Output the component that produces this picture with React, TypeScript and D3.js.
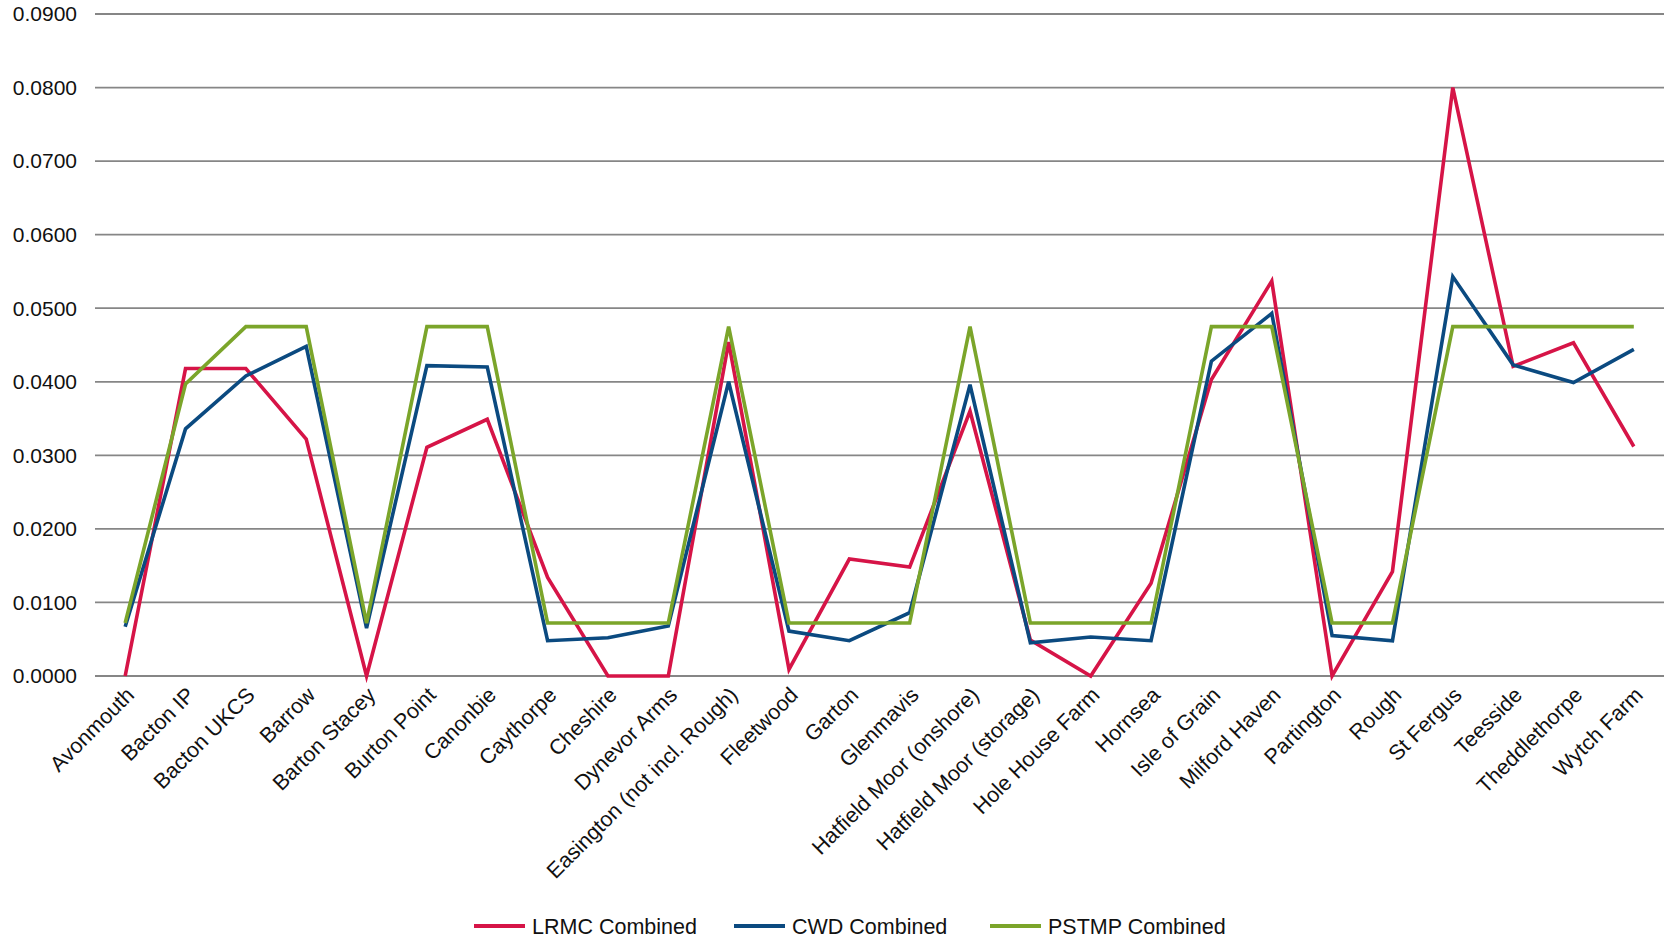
import React from "react";
import * as d3 from "d3";

const sites = [
  "Avonmouth", "Bacton IP", "Bacton UKCS", "Barrow", "Barton Stacey", "Burton Point",
  "Canonbie", "Caythorpe", "Cheshire", "Dynevor Arms", "Easington (not incl. Rough)",
  "Fleetwood", "Garton", "Glenmavis", "Hatfield Moor (onshore)", "Hatfield Moor (storage)",
  "Hole House Farm", "Hornsea", "Isle of Grain", "Milford Haven", "Partington", "Rough",
  "St Fergus", "Teesside", "Theddlethorpe", "Wytch Farm",
];

const lrmc = [
  0.0, 0.0418, 0.0418, 0.0322, 0.0, 0.0311, 0.0349, 0.0134, 0.0, 0.0, 0.0454,
  0.0009, 0.0159, 0.0148, 0.0360, 0.0049, 0.0, 0.0126, 0.0403, 0.0537, 0.0, 0.0142,
  0.0800, 0.0421, 0.0453, 0.0312,
];

const cwd = [
  0.0067, 0.0336, 0.0408, 0.0448, 0.0065, 0.0422, 0.0420, 0.0048, 0.0052, 0.0068, 0.0400,
  0.0061, 0.0048, 0.0086, 0.0396, 0.0045, 0.0053, 0.0048, 0.0428, 0.0493, 0.0055, 0.0048,
  0.0543, 0.0423, 0.0399, 0.0444,
];

const pstmp = [
  0.0072, 0.0397, 0.0475, 0.0475, 0.0072, 0.0475, 0.0475, 0.0072, 0.0072, 0.0072, 0.0475,
  0.0072, 0.0072, 0.0072, 0.0475, 0.0072, 0.0072, 0.0072, 0.0475, 0.0475, 0.0072, 0.0072,
  0.0475, 0.0475, 0.0475, 0.0475,
];

const yTicks = [0, 0.01, 0.02, 0.03, 0.04, 0.05, 0.06, 0.07, 0.08, 0.09];

const seriesNames = ["LRMC Combined", "CWD Combined", "PSTMP Combined"];
const seriesColors = ["#D61447", "#0B4A80", "#7BA52A"];

const W = 1669;
const H = 940;
const left = 95;
const right = 1664;
const top = 14;
const bottom = 676;
const font = "'Liberation Sans', Arial, sans-serif";

export default function App() {
  const x = d3.scaleBand<string>().domain(sites).range([left, right]);
  const y = d3.scaleLinear().domain([0, 0.09]).range([bottom, top]);
  const cx = (s: string) => (x(s) as number) + x.bandwidth() / 2;

  const line = d3
    .line<number>()
    .x((_, i) => cx(sites[i]))
    .y((v) => y(v));

  const allSeries = [lrmc, cwd, pstmp];
  const legendX = [474, 734, 990];

  return (
    <svg
      width={W}
      height={H}
      style={{ position: "absolute", left: 0, top: 0, background: "#fff" }}
      fontFamily={font}
    >
      {yTicks.map((t) => (
        <g key={t}>
          <line x1={left} x2={right} y1={y(t)} y2={y(t)} stroke="#868686" strokeWidth={1.8} />
          <text x={77} y={y(t)} dy="0.35em" textAnchor="end" fontSize={21} fill="#111">
            {d3.format(".4f")(t)}
          </text>
        </g>
      ))}

      {sites.map((s) => (
        <text
          key={s}
          transform={`translate(${cx(s) + 5},${bottom + 15}) rotate(-45)`}
          textAnchor="end"
          dy="0.35em"
          fontSize={21.5}
          fill="#111"
        >
          {s}
        </text>
      ))}

      {allSeries.map((vals, k) => (
        <path
          key={k}
          d={line(vals) ?? ""}
          fill="none"
          stroke={seriesColors[k]}
          strokeWidth={3.6}
          strokeLinejoin="miter"
        />
      ))}

      {seriesNames.map((n, k) => (
        <g key={n}>
          <line
            x1={legendX[k]}
            x2={legendX[k] + 51}
            y1={926}
            y2={926}
            stroke={seriesColors[k]}
            strokeWidth={3.8}
          />
          <text x={legendX[k] + 58} y={926} dy="0.35em" fontSize={21.5} fill="#111">
            {n}
          </text>
        </g>
      ))}
    </svg>
  );
}
